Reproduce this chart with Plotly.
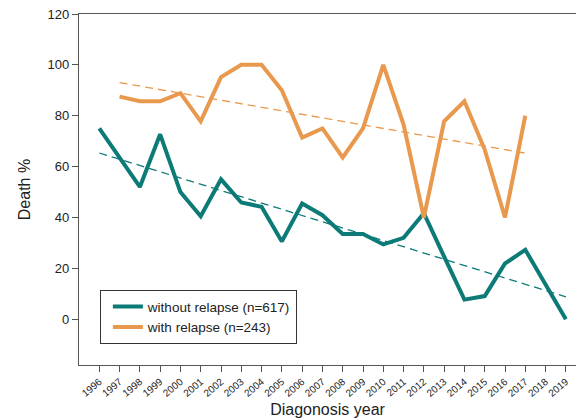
import numpy as np
import plotly.graph_objects as go

years_without = list(range(1996, 2020))
death_without = [75.0, 63.5, 52.0, 72.7, 50.0, 40.5, 55.0, 45.9, 44.2, 30.6, 45.5, 40.9,
                 33.5, 33.5, 29.4, 32.0, 41.7, 24.6, 7.7, 9.1, 21.9, 27.3, 13.6, 0.0]

years_with = list(range(1997, 2018))
death_with = [87.5, 85.7, 85.7, 88.9, 77.8, 95.2, 100.0, 100.0, 90.0, 71.4, 75.0,
              63.6, 75.0, 100.0, 76.5, 40.0, 77.8, 85.7, 66.7, 40.0, 80.0]

tick_years = list(range(1996, 2020))

teal = "#0c7a76"
orange = "#e8994d"

fig = go.Figure()

# trend lines (least-squares fits of the series)
for yrs, vals, col in [(years_without, death_without, teal), (years_with, death_with, orange)]:
    coef = np.polyfit(yrs, vals, 1)
    fit = np.polyval(coef, yrs)
    fig.add_trace(go.Scatter(x=yrs, y=fit, mode="lines", showlegend=False, hoverinfo="skip",
                             line=dict(color=col, width=1.3, dash="8px,5px")))

fig.add_trace(go.Scatter(x=years_without, y=death_without, mode="lines",
                         name="without relapse (n=617)", line=dict(color=teal, width=4)))
fig.add_trace(go.Scatter(x=years_with, y=death_with, mode="lines",
                         name="with relapse (n=243)", line=dict(color=orange, width=4)))

axis_col = "#555555"
fig.update_layout(
    width=576, height=420,
    margin=dict(l=79, r=0, t=14, b=55),
    paper_bgcolor="white", plot_bgcolor="white",
    font=dict(family="Liberation Sans, Arial, sans-serif", color="#222222"),
    legend=dict(x=0.042, y=0.213, xanchor="left", yanchor="top",
                bordercolor="#333333", borderwidth=1, bgcolor="white",
                font=dict(size=13.5), itemwidth=30, indentation=7,
                tracegroupgap=0),
    xaxis=dict(range=[1995.0, 2019.5], tickmode="array", tickvals=tick_years,
               ticktext=[str(y) for y in tick_years], tickangle=-40,
               ticks="outside", ticklen=6, tickcolor=axis_col, tickfont=dict(size=10),
               showline=True, linecolor=axis_col, linewidth=1.2, mirror=True,
               showgrid=False, zeroline=False,
               title=dict(text="Diagonosis year", font=dict(size=16), standoff=6)),
    yaxis=dict(range=[-18, 120], tickvals=[0, 20, 40, 60, 80, 100, 120],
               ticks="outside", ticklen=6, tickcolor=axis_col, tickfont=dict(size=13),
               showline=True, linecolor=axis_col, linewidth=1.2,
               showgrid=False, zeroline=False,
               title=dict(text="Death %", font=dict(size=16), standoff=12)),
)

fig.write_html("out.html", config={"displayModeBar": False},
               post_script="document.body.style.margin='0';")
